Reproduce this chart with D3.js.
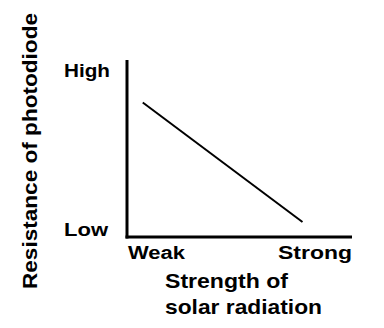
<!DOCTYPE html>
<html>
<head>
<meta charset="utf-8">
<script src="https://cdn.jsdelivr.net/npm/d3@7"></script>
<style>
  html, body { margin: 0; padding: 0; background: #fff; }
  svg { display: block; }
  text { font-family: "Liberation Sans", Arial, Helvetica, sans-serif; font-weight: bold; fill: #000; }
</style>
</head>
<body>
<svg id="chart" width="384" height="328"></svg>
<script>
// Qualitative relationship: resistance falls as solar radiation strengthens
const xTickLabels = ["Weak", "Strong"];
const yTickLabels = ["Low", "High"];
const strength = [0.07, 0.78];      // relative strength of solar radiation
const resistance = [0.76, 0.085];   // relative resistance of photodiode
const xTitle = ["Strength of", "solar radiation"];
const yTitle = "Resistance of photodiode";

const svg = d3.select("#chart");

const x = d3.scaleLinear().domain([0, 1]).range([127, 352]);
const y = d3.scaleLinear().domain([0, 1]).range([237, 60]);

// Axes (plain lines, no ticks)
svg.append("line")
  .attr("x1", x(0)).attr("x2", x(0))
  .attr("y1", y(1)).attr("y2", y(0) + 1.5)
  .attr("stroke", "#000").attr("stroke-width", 3);
svg.append("line")
  .attr("x1", x(0) - 1.5).attr("x2", x(1))
  .attr("y1", y(0)).attr("y2", y(0))
  .attr("stroke", "#000").attr("stroke-width", 3);

// Data line
const pts = strength.map((s, i) => [s, resistance[i]]);
svg.append("path")
  .datum(pts)
  .attr("fill", "none")
  .attr("stroke", "#000")
  .attr("stroke-width", 2)
  .attr("d", d3.line().x(d => x(d[0])).y(d => y(d[1])));

// Y tick labels
svg.append("text").text(yTickLabels[1])
  .attr("x", 64).attr("y", 77).attr("font-size", 18)
  .attr("textLength", 46).attr("lengthAdjust", "spacingAndGlyphs");
svg.append("text").text(yTickLabels[0])
  .attr("x", 64).attr("y", 236).attr("font-size", 18)
  .attr("textLength", 44).attr("lengthAdjust", "spacingAndGlyphs");

// X tick labels
svg.append("text").text(xTickLabels[0])
  .attr("x", x(0) + 1).attr("y", 259).attr("font-size", 18)
  .attr("textLength", 57).attr("lengthAdjust", "spacingAndGlyphs");
svg.append("text").text(xTickLabels[1])
  .attr("x", 278).attr("y", 259).attr("font-size", 18)
  .attr("textLength", 74).attr("lengthAdjust", "spacingAndGlyphs");

// X title
svg.append("text").text(xTitle[0])
  .attr("x", 165).attr("y", 288).attr("font-size", 21)
  .attr("textLength", 123).attr("lengthAdjust", "spacingAndGlyphs");
svg.append("text").text(xTitle[1])
  .attr("x", 165).attr("y", 314).attr("font-size", 21)
  .attr("textLength", 157).attr("lengthAdjust", "spacingAndGlyphs");

// Y title
svg.append("text").text(yTitle)
  .attr("transform", "translate(37,289) rotate(-90)")
  .attr("font-size", 20)
  .attr("textLength", 276).attr("lengthAdjust", "spacingAndGlyphs");
</script>
</body>
</html>
